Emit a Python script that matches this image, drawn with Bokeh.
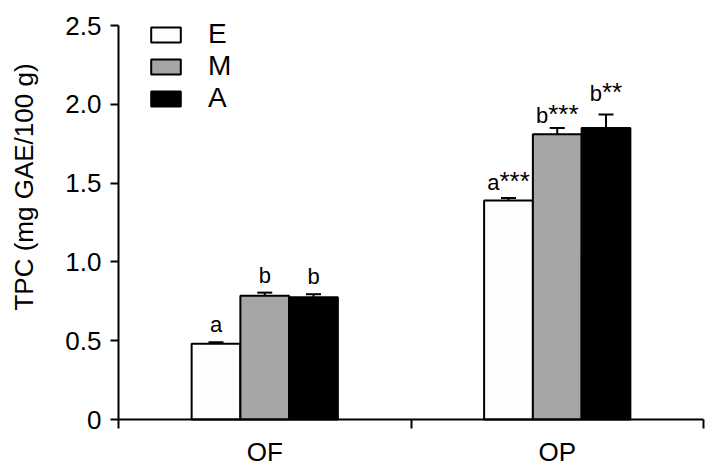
from bokeh.plotting import figure
from bokeh.models import (ColumnDataSource, FixedTicker, Range1d, Whisker, TeeHead,
                          Label, Legend, LegendItem)
from bokeh.embed import file_html
from bokeh.resources import INLINE
from bokeh.core.properties import value

# ---- data ----
groups = ["OF", "OP"]
series = ["E", "M", "A"]
E_vals = [0.48, 1.39]
E_errs = [0.010, 0.015]
M_vals = [0.785, 1.81]
M_errs = [0.020, 0.040]
A_vals = [0.775, 1.85]
A_errs = [0.020, 0.085]
E_letters = ["a", "a"]
M_letters = ["b", "b"]
A_letters = ["b", "b"]
E_stars = ["", "***"]
M_stars = ["", "***"]
A_stars = ["", "**"]
y_ticks = [0, 0.5, 1.0, 1.5, 2.0, 2.5]
y_tick_labels = ["0", "0.5", "1.0", "1.5", "2.0", "2.5"]
y_title = "TPC (mg GAE/100 g)"

# ---- style / layout ----
FONT = "Liberation Sans"
fills = {"E": "#fdfdfd", "M": "#a6a6a6", "A": "#000000"}
label_gap = {"E": [18, 16], "M": [17, 12], "A": [18, 21]}   # px above error bar
LETTER_PX, STAR_PX = 22, 26
letter_w = 0.556 * LETTER_PX
star_w = 0.389 * STAR_PX
bar_w = 1 / 6
W, H = 719, 474
AX_X, AX_R, AX_TOP, AX_BOT = 118, 703, 25, 419      # axis box in canvas px
px_x = (AX_R - AX_X) / 2.0                            # px per x unit
px_y = (AX_BOT - AX_TOP) / 2.5                        # px per y unit

p = figure(width=W, height=H,
           x_range=Range1d(-AX_X / px_x, 2 + (W - AX_R) / px_x),
           y_range=Range1d(-(H - AX_BOT) / px_y, 2.5 + AX_TOP / px_y),
           output_backend="svg", toolbar_location=None, title=None,
           min_border_left=0, min_border_right=0, min_border_top=0, min_border_bottom=0)
p.background_fill_color = "white"
p.border_fill_color = "white"
p.outline_line_color = None
p.xgrid.visible = False
p.ygrid.visible = False

data = {"E": (E_vals, E_errs, E_letters, E_stars),
        "M": (M_vals, M_errs, M_letters, M_stars),
        "A": (A_vals, A_errs, A_letters, A_stars)}

renderers = {}
for j, s in enumerate(series):
    vals, errs, letters, stars = data[s]
    xs = [i + 0.5 + (j - 1) * bar_w for i in range(len(groups))]
    upper = [v + e for v, e in zip(vals, errs)]
    anchor = [(letter_w - len(st) * star_w) / 2 for st in stars]
    src = ColumnDataSource(dict(x=xs, top=vals, upper=upper, letters=letters, stars=stars,
                                anchor=anchor, yoff=[-g for g in label_gap[s]],
                                soff=[-g - 1.5 for g in label_gap[s]]))
    r = p.vbar(x="x", top="top", bottom=0, width=bar_w, source=src,
               fill_color=fills[s], line_color="black", line_width=2)
    renderers[s] = r
    w = Whisker(source=src, base="x", lower="top", upper="upper", dimension="height",
                line_color="black", line_width=2,
                upper_head=TeeHead(size=15, line_width=2, line_color="black"), lower_head=None)
    p.add_layout(w)
    p.text(x="x", y="upper", text="letters", source=src, x_offset="anchor", y_offset="yoff",
           text_align="right", text_baseline="alphabetic", text_font=value(FONT),
           text_font_size=f"{LETTER_PX}px", text_color="black")
    p.text(x="x", y="upper", text="stars", source=src, x_offset="anchor", y_offset="soff",
           text_align="left", text_baseline="alphabetic", text_font=value(FONT),
           text_font_size=f"{STAR_PX}px", text_color="black")

# ---- axes ----
xa = p.xaxis[0]
xa.fixed_location = 0
xa.bounds = (0, 2)
xa.ticker = FixedTicker(ticks=[0.5, 1.5], minor_ticks=[0, 1, 2])
xa.major_label_overrides = {0.5: groups[0], 1.5: groups[1]}
xa.major_tick_out = 0
xa.major_tick_in = 0
xa.minor_tick_out = 9
xa.minor_tick_in = 0
xa.minor_tick_line_width = 2
xa.minor_tick_line_color = "black"
xa.axis_line_width = 2
xa.axis_line_color = "black"
xa.major_label_standoff = 8
xa.major_label_text_font = FONT
xa.major_label_text_font_size = "26px"
xa.major_label_text_color = "black"

ya = p.yaxis[0]
ya.fixed_location = 0
ya.bounds = (0, 2.5)
ya.ticker = FixedTicker(ticks=y_ticks, minor_ticks=[])
ya.major_label_overrides = {t: l for t, l in zip(y_ticks, y_tick_labels)}
ya.major_tick_out = 8
ya.major_tick_in = 0
ya.major_tick_line_width = 2
ya.major_tick_line_color = "black"
ya.minor_tick_line_color = None
ya.axis_line_width = 2
ya.axis_line_color = "black"
ya.major_label_standoff = 9
ya.major_label_text_font = FONT
ya.major_label_text_font_size = "26px"
ya.major_label_text_color = "black"

# y-axis title (off-centre as in the original)
ytitle = Label(x=23, y=H - 186.5, x_units="screen", y_units="screen", text=y_title,
               angle=90, angle_units="deg", text_align="center", text_baseline="alphabetic",
               text_font=FONT, text_font_size="26px", text_color="black")
p.add_layout(ytitle)

legend = Legend(items=[LegendItem(label=s, renderers=[renderers[s]]) for s in series],
                location=(147, 360), orientation="vertical",
                glyph_width=37, glyph_height=19, label_standoff=24, spacing=-3,
                padding=0, margin=0, border_line_color=None, background_fill_alpha=0,
                label_text_font=FONT, label_text_font_size="28px", label_text_color="black")
p.add_layout(legend)

open("out.html", "w").write(file_html(p, INLINE))
